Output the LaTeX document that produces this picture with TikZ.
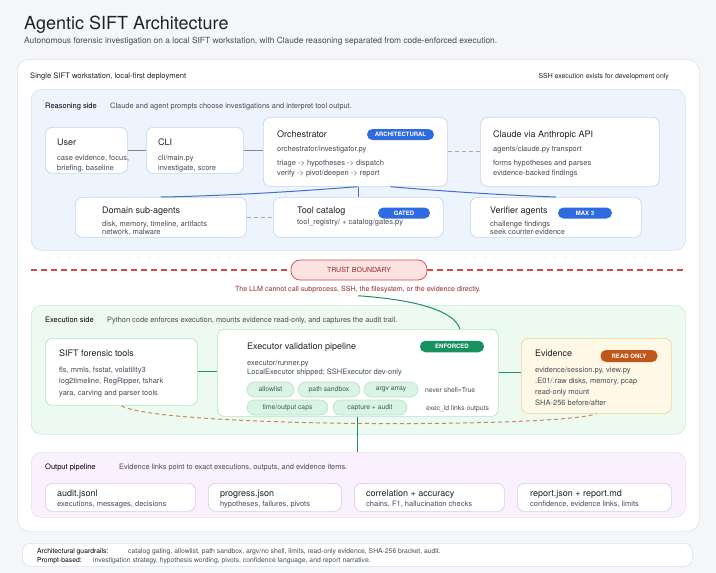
\documentclass[tikz,border=0pt]{standalone}
\usepackage{fontspec}
\setmainfont{TeX Gyre Heros}
\definecolor{bg}{HTML}{F4F6F9}
\definecolor{outerb}{HTML}{DCE2E9}
\definecolor{rfill}{HTML}{EEF4FD}
\definecolor{rline}{HTML}{D2E1F6}
\definecolor{cardb}{HTML}{C3D6F1}
\definecolor{blueb}{HTML}{2F6BE0}
\definecolor{bluel}{HTML}{3F70D0}
\definecolor{greyl}{HTML}{7E8792}
\definecolor{dashg}{HTML}{A3AAB3}
\definecolor{tred}{HTML}{D04A4A}
\definecolor{tfill}{HTML}{FDE2E2}
\definecolor{ttext}{HTML}{9A2A2A}
\definecolor{efill}{HTML}{ECFAF2}
\definecolor{eline}{HTML}{C7EBD6}
\definecolor{ecard}{HTML}{B5E3C7}
\definecolor{pillf}{HTML}{D9F3E5}
\definecolor{pillt}{HTML}{3A5F4C}
\definecolor{greenb}{HTML}{17915F}
\definecolor{greenl}{HTML}{1F8E66}
\definecolor{evfill}{HTML}{FFF8E6}
\definecolor{evline}{HTML}{EFD58C}
\definecolor{orangeb}{HTML}{C1561B}
\definecolor{orangel}{HTML}{C98A4B}
\definecolor{ofill}{HTML}{F9F1FD}
\definecolor{oline}{HTML}{EBDAF5}
\definecolor{ocard}{HTML}{DEC8EE}
\definecolor{ink}{HTML}{1F2329}
\definecolor{bodyc}{HTML}{474C53}
\newcommand\fsz[1]{\fontsize{#1}{#1}\selectfont}
\newcommand\mkbox[6]{\node[#6,anchor=north west,minimum width={(#4-#2)*1pt},minimum height={(#5-#3)*1pt}] (#1) at (#2,#3) {};}
\tikzset{
  panel/.style={draw, rounded corners=10pt, line width=0.6pt, inner sep=0pt},
  card/.style={draw, fill=white, rounded corners=7pt, line width=0.7pt, inner sep=0pt},
  badge/.style={fill, rounded corners=5.5pt, text=white, font=\fsz{6}\bfseries, inner sep=0pt},
  pill/.style={draw=ecard, fill=pillf, rounded corners=7.5pt, text=pillt, font=\fsz{6.8}, inner sep=0pt, line width=0.6pt},
  ttl/.style={anchor=base west, inner sep=0pt, font=\fsz{9}, text=ink},
  txt/.style={anchor=base west, inner sep=0pt, font=\fsz{7.5}, text=bodyc},
  lbl/.style={anchor=base west, inner sep=0pt, font=\fsz{7.5}, text=black},
  dsc/.style={anchor=base west, inner sep=0pt, font=\fsz{7.4}, text=bodyc},
}
\begin{document}
\begin{tikzpicture}[x=1pt,y=-1pt]
\useasboundingbox (0,0) rectangle (716,573);
\fill[bg] (0,0) rectangle (716,573);
% title
\node[anchor=base west, inner sep=0pt, font=\fsz{18}, text=ink] (title) at (24,29) {Agentic SIFT Architecture};
\node[anchor=base west, inner sep=0pt, font=\fsz{8.4}, text=bodyc] (subtitle) at (24,43.5) {Autonomous forensic investigation on a local SIFT workstation, with Claude reasoning separated from code-enforced execution.};
% outer panel
\mkbox{outer}{17}{59}{699}{531}{panel, draw=outerb, fill=white, rounded corners=12pt}
\node[anchor=base west, inner sep=0pt, font=\fsz{7.6}, text=ink] (single) at (30,78) {Single SIFT workstation, local-first deployment};
\node[anchor=base east, inner sep=0pt, font=\fsz{6.9}, text=ink] (sshnote) at (669,78) {SSH execution exists for development only};
% reasoning panel
\mkbox{reason}{31}{89}{685}{250}{panel, draw=rline, fill=rfill}
\node[lbl] (reasonl) at (45,108) {Reasoning side};
\node[dsc] (reasond) at (110,108) {Claude and agent prompts choose investigations and interpret tool output.};
% user
\mkbox{user}{45}{127}{127}{173}{card, draw=cardb}
\node[ttl] (usert) at (57,145.5) {User};
\node[txt] (user1) at (57,160) {case evidence, focus,};
\node[txt] (user2) at (57,170) {briefing, baseline};
% cli
\mkbox{cli}{146}{127}{243}{173}{card, draw=cardb}
\node[ttl] (clit) at (158,145.5) {CLI};
\node[txt] (cli1) at (158,160) {cli/main.py};
\node[txt] (cli2) at (158,170) {investigate, score};
% orchestrator
\mkbox{orch}{263}{117}{447}{186}{card, draw=cardb}
\node[ttl] (orcht) at (277,137) {Orchestrator};
\node[badge, fill=blueb, minimum width=67pt, minimum height=11pt] (orchb) at (400.5,134.5) {ARCHITECTURAL};
\node[txt] (orch1) at (277,151.5) {orchestrator/investigator.py};
\node[txt] (orch2) at (277,165) {triage -> hypotheses -> dispatch};
\node[txt] (orch3) at (277,175.5) {verify -> pivot/deepen -> report};
% claude
\mkbox{claude}{480}{117}{659}{186}{card, draw=cardb}
\node[ttl] (claudet) at (493,137) {Claude via Anthropic API};
\node[txt] (claude1) at (493,151.5) {agents/claude.py transport};
\node[txt] (claude2) at (493,165) {forms hypotheses and parses};
\node[txt] (claude3) at (493,175.5) {evidence-backed findings};
% domain
\mkbox{dom}{75}{197}{246}{237}{card, draw=cardb}
\node[ttl] (domt) at (102,213) {Domain sub-agents};
\node[txt] (dom1) at (102,226.5) {disk, memory, timeline, artifacts};
\node[txt] (dom2) at (102,234.5) {network, malware};
% tool catalog
\mkbox{tool}{273}{197}{443}{237}{card, draw=cardb}
\node[ttl] (toolt) at (297,213) {Tool catalog};
\node[badge, fill=blueb, minimum width=52pt, minimum height=11pt] (toolb) at (404,213) {GATED};
\node[txt] (tool1) at (297,224) {tool\_registry/ + catalog/gates.py};
% verifier
\mkbox{ver}{470}{197}{641}{237}{card, draw=cardb}
\node[ttl] (vert) at (490,213) {Verifier agents};
\node[badge, fill=blueb, minimum width=54pt, minimum height=11pt] (verb) at (585,213) {MAX 3};
\node[txt] (ver1) at (490,226.5) {challenge findings};
\node[txt] (ver2) at (490,234.5) {seek counter-evidence};
% reasoning connectors
\draw[greyl, line width=0.8pt] (user) -- (cli);
\draw[greyl, line width=0.8pt] (cli.east) -- (cli.east -| orch.west);
\draw[dashg, line width=0.8pt, dash pattern=on 4pt off 3pt] (orch.east) -- (claude.west);
\draw[dashg, line width=0.8pt, dash pattern=on 4pt off 3pt] (dom) -- (tool);
\draw[bluel, line width=1pt] (tool.north |- orch.south) -- (tool.north);
\draw[bluel, line width=1pt] ([xshift=2pt]orch.south) .. controls (290,192) and (220,196) .. (dom.north);
\draw[bluel, line width=1pt] ([xshift=35pt]orch.south) .. controls (440,191) and (500,195) .. (ver.north);
% trust boundary
\node[draw=tred, fill=tfill, rounded corners=9pt, minimum width=136pt, minimum height=20pt, inner sep=0pt, line width=0.7pt, font=\fsz{7}, text=ttext] (tb) at (359,270) {TRUST BOUNDARY};
\draw[tred, line width=1.2pt, dash pattern=on 6pt off 4pt] (reason.west |- tb.west) -- (tb.west);
\draw[tred, line width=1.2pt, dash pattern=on 6pt off 4pt] (tb.east) -- (reason.east |- tb.east);
\node[anchor=base, inner sep=0pt, font=\fsz{7.1}, text=ttext] (tbnote) at (358,291) {The LLM cannot call subprocess, SSH, the filesystem, or the evidence directly.};
% execution panel
\mkbox{exside}{31}{305}{685}{434}{panel, draw=eline, fill=efill}
\node[lbl] (execl) at (45,322.5) {Execution side};
\node[dsc] (execd) at (107,322.5) {Python code enforces execution, mounts evidence read-only, and captures the audit trail.};
% sift
\mkbox{sift}{45}{338}{197}{405}{card, draw=ecard}
\node[ttl] (siftt) at (59,356.5) {SIFT forensic tools};
\node[txt] (sift1) at (59,372) {fls, mmls, fsstat, volatility3};
\node[txt] (sift2) at (59,383.5) {log2timeline, RegRipper, tshark};
\node[txt] (sift3) at (59,395) {yara, carving and parser tools};
% executor
\mkbox{exec}{217}{329}{498}{416}{card, draw=ecard}
\node[ttl] (exect) at (247,349.5) {Executor validation pipeline};
\node[badge, fill=greenb, minimum width=64pt, minimum height=11.5pt] (execb) at (452,346.5) {ENFORCED};
\node[txt] (exec1) at (247,365) {executor/runner.py};
\node[txt] (exec2) at (247,374.5) {LocalExecutor shipped; SSHExecutor dev-only};
\node[pill, minimum width=47pt, minimum height=15pt] (p1) at (270.5,389.5) {allowlist};
\node[pill, minimum width=62pt, minimum height=15pt] (p2) at (329,389.5) {path sandbox};
\node[pill, minimum width=54pt, minimum height=15pt] (p3) at (391,389.5) {argv array};
\node[anchor=base west, inner sep=0pt, font=\fsz{6.8}, text=bodyc] (p3n) at (425,392) {never shell=True};
\node[pill, minimum width=81pt, minimum height=15pt] (p4) at (287.5,407.5) {time/output caps};
\node[pill, minimum width=74pt, minimum height=15pt] (p5) at (370,407.5) {capture + audit};
\node[anchor=base west, inner sep=0pt, font=\fsz{6.8}, text=bodyc] (p5n) at (426,410) {exec\_id links outputs};
% evidence
\mkbox{evid}{521}{338}{671}{413}{card, draw=evline, fill=evfill}
\node[ttl] (evidt) at (535,356.5) {Evidence};
\node[badge, fill=orangeb, minimum width=57pt, minimum height=12pt] (evidb) at (629,356) {READ ONLY};
\node[txt] (evid1) at (535,372.5) {evidence/session.py, view.py};
\node[txt] (evid2) at (535,383.5) {.E01/.raw disks, memory, pcap};
\node[txt] (evid3) at (535,394.5) {read-only mount};
\node[txt] (evid4) at (535,405.5) {SHA-256 before/after};
% execution connectors
\draw[greenl, line width=1pt] (sift.east) -- (sift.east -| exec.west);
\draw[greenl, line width=1pt] (exec.east) -- (exec.east -| evid.west);
\draw[orangel, line width=1pt, dash pattern=on 4pt off 3pt] (sift.south) .. controls (160,428) and (560,428) .. (evid.south);
\draw[greenl, line width=1pt] (tbnote.south) ++(0,3) .. controls (420,300) and (455,312) .. ([xshift=102pt]exec.north);
% output panel
\mkbox{outp}{31}{452}{685}{517}{panel, draw=oline, fill=ofill}
\draw[greenl, line width=1pt] (exec.south) -- (exec.south |- outp.north);
\node[lbl] (outl) at (45,469.5) {Output pipeline};
\node[dsc] (outd) at (119,469.5) {Evidence links point to exact executions, outputs, and evidence items.};
\mkbox{audit}{45}{483}{195}{511}{card, draw=ocard}
\node[ttl] (auditt) at (57,496) {audit.jsonl};
\node[txt] (audit1) at (57,506.5) {executions, messages, decisions};
\mkbox{prog}{208}{483}{341}{511}{card, draw=ocard}
\node[ttl] (progt) at (220,496) {progress.json};
\node[txt] (prog1) at (220,506.5) {hypotheses, failures, pivots};
\mkbox{corr}{354}{483}{504}{511}{card, draw=ocard}
\node[ttl] (corrt) at (366,496) {correlation + accuracy};
\node[txt] (corr1) at (366,506.5) {chains, F1, hallucination checks};
\mkbox{rep}{517}{483}{671}{511}{card, draw=ocard}
\node[ttl] (rept) at (530,496) {report.json + report.md};
\node[txt] (rep1) at (530,506.5) {confidence, evidence links, limits};
% guardrails
\mkbox{guard}{22}{543}{692}{566}{card, draw=outerb, rounded corners=8pt}
\node[anchor=base west, inner sep=0pt, font=\fsz{6.8}, text=black] (g1l) at (37,553) {Architectural guardrails:};
\node[anchor=base west, inner sep=0pt, font=\fsz{6.8}, text=bodyc] (g1) at (128,553) {catalog gating, allowlist, path sandbox, argv/no shell, limits, read-only evidence, SHA-256 bracket, audit.};
\node[anchor=base west, inner sep=0pt, font=\fsz{6.8}, text=black] (g2l) at (37,562) {Prompt-based:};
\node[anchor=base west, inner sep=0pt, font=\fsz{6.8}, text=bodyc] (g2) at (93,562) {investigation strategy, hypothesis wording, pivots, confidence language, and report narrative.};
\end{tikzpicture}
\end{document}
